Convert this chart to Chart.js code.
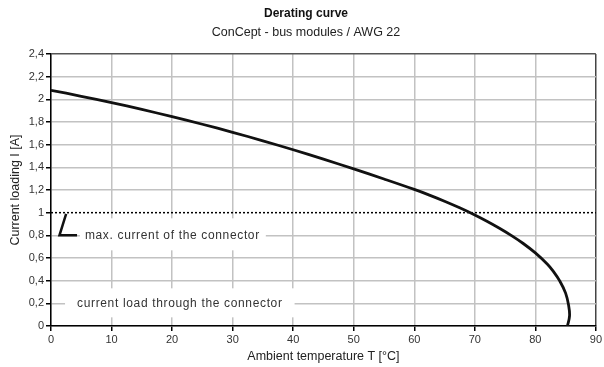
<!DOCTYPE html>
<html><head><meta charset="utf-8">
<script src="https://cdn.jsdelivr.net/npm/chart.js@4.4.0/dist/chart.umd.min.js"></script>
<style>html,body{margin:0;padding:0;background:#fff}canvas{display:block}</style>
</head><body>
<canvas id="c" width="604" height="367"></canvas>
<script>
// ---- data ----
const temperatureC = [0, 5, 10, 15, 20, 25, 30, 35, 40, 45, 50, 55, 60, 62.5, 65, 67.5, 70, 72, 74, 76, 78, 80, 82, 83, 84, 85, 85.5, 85.65, 85.3];
const currentA     = [2.08, 2.027, 1.971, 1.911, 1.847, 1.78, 1.709, 1.634, 1.555, 1.472, 1.386, 1.297, 1.205, 1.155, 1.101, 1.043, 0.98, 0.925, 0.865, 0.80, 0.728, 0.645, 0.545, 0.48, 0.40, 0.29, 0.18, 0.09, 0];
const limitT = [0, 90];
const limitA = [1, 1];
const markerT = [2.5, 1.4, 4.3];
const markerA = [0.99, 0.8, 0.8];
const xTickValues = [0, 10, 20, 30, 40, 50, 60, 70, 80, 90];
const yTickLabels = ['0', '0,2', '0,4', '0,6', '0,8', '1', '1,2', '1,4', '1,6', '1,8', '2', '2,2', '2,4'];
const titleText = 'Derating curve';
const subtitleText = 'ConCept - bus modules / AWG 22';
const xAxisTitle = 'Ambient temperature T [°C]';
const yAxisTitle = 'Current loading I [A]';
const noteTexts = ['max. current of the connector', 'current load through the connector'];

// ---- annotation placement (layout, not data) ----
const notePlacement = [
  {T: 5.6, A: 0.8, padL: 5, padR: 6, up: 17, down: 15},
  {T: 4.3, A: 0.2, padL: 12, padR: 12, up: 15, down: 14}
];

const FONT = "'Liberation Sans', Arial, sans-serif";
const toPts = (xs, ys) => xs.map((x, i) => ({x, y: ys[i]}));

const titlesPlugin = {
  id: 'titles',
  afterDraw(chart) {
    const ctx = chart.ctx;
    ctx.save();
    ctx.textAlign = 'center';
    ctx.textBaseline = 'middle';
    ctx.fillStyle = '#111';
    ctx.font = 'bold 12px ' + FONT;
    ctx.fillText(titleText, 306, 14);
    ctx.fillStyle = '#222';
    ctx.font = '12.5px ' + FONT;
    ctx.fillText(subtitleText, 306, 33);
    ctx.restore();
  }
};

const notesPlugin = {
  id: 'notes',
  beforeDatasetsDraw(chart) {
    const ctx = chart.ctx;
    const xs = chart.scales.x, ys = chart.scales.y;
    ctx.save();
    ctx.font = '12px ' + FONT;
    try { ctx.letterSpacing = '0.65px'; } catch (e) {}
    ctx.textBaseline = 'middle';
    ctx.textAlign = 'left';
    noteTexts.forEach((t, i) => {
      const p = notePlacement[i];
      const px = xs.getPixelForValue(p.T), py = ys.getPixelForValue(p.A);
      const w = ctx.measureText(t).width;
      ctx.fillStyle = '#fff';
      ctx.fillRect(px - p.padL, py - p.up, w + p.padL + p.padR, p.up + p.down);
      ctx.fillStyle = '#333';
      ctx.fillText(t, px, py + 0.5);
    });
    ctx.restore();
  }
};

const gridGray = '#c2c2c2';

new Chart(document.getElementById('c'), {
  type: 'scatter',
  data: {
    datasets: [
      { data: toPts(temperatureC, currentA), showLine: true, borderColor: '#111', borderWidth: 2.8, pointRadius: 0, tension: 0.4, fill: false },
      { data: toPts(limitT, limitA), showLine: true, borderColor: '#000', borderWidth: 1.5, borderDash: [2, 2], pointRadius: 0, tension: 0 },
      { data: toPts(markerT, markerA), showLine: true, borderColor: '#111', borderWidth: 2.5, pointRadius: 0, tension: 0 }
    ]
  },
  options: {
    responsive: false,
    animation: false,
    events: [],
    layout: { padding: { top: 54, right: 6, left: 0, bottom: 0 } },
    plugins: { legend: { display: false }, tooltip: { enabled: false }, title: { display: false } },
    scales: {
      x: {
        type: 'linear', min: 0, max: 90,
        afterBuildTicks: s => { s.ticks = xTickValues.map(v => ({value: v})); },
        afterFit: s => { s.height = 41; },
        ticks: { color: '#333', font: { family: FONT, size: 11 }, padding: 2, maxRotation: 0, callback: v => String(v) },
        grid: {
          color: c => (c.tick && c.tick.value === 90) ? '#444' : gridGray,
          lineWidth: 1.5, tickColor: '#000', tickLength: 5, drawTicks: true
        },
        border: { color: '#000', width: 1.5 },
        title: { display: true, text: xAxisTitle, color: '#222', font: { family: FONT, size: 12.5 }, padding: { top: 0, bottom: 3 } }
      },
      y: {
        type: 'linear', min: 0, max: 2.4,
        afterBuildTicks: s => { s.ticks = yTickLabels.map((l, i) => ({value: i * 0.2})); },
        afterFit: s => { s.width = 51; },
        ticks: { color: '#333', font: { family: FONT, size: 11 }, padding: 2, callback: (v, i) => yTickLabels[i] },
        grid: {
          color: c => {
            if (!c.tick) return gridGray;
            if (Math.abs(c.tick.value - 2.4) < 1e-6) return '#555';
            if (Math.abs(c.tick.value - 1) < 1e-6) return 'rgba(0,0,0,0)';
            return gridGray;
          },
          lineWidth: 1.5, tickColor: '#000', tickLength: 5
        },
        border: { color: '#000', width: 1.5 },
        title: { display: true, text: yAxisTitle, color: '#222', font: { family: FONT, size: 12.5 }, padding: { top: 8, bottom: 0 } }
      }
    }
  },
  plugins: [titlesPlugin, notesPlugin]
});
</script>
</body></html>
